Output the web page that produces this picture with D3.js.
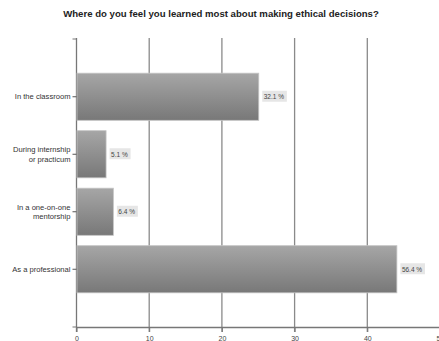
<!DOCTYPE html>
<html>
<head>
<meta charset="utf-8">
<script src="https://cdn.jsdelivr.net/npm/d3@7"></script>
<style>
  body { margin: 0; background: #fff; }
  text { font-family: "Liberation Sans", Arial, sans-serif; }
</style>
</head>
<body>
<div id="chart"></div>
<script>
var title = 'Where do you feel you learned most about making ethical decisions?';
var categories = [['In the classroom'], ['During internship', 'or practicum'], ['In a one-on-one', 'mentorship'], ['As a professional']];
var counts = [25, 4, 5, 44];
var percents = ['32.1 %', '5.1 %', '6.4 %', '56.4 %'];
var x_ticks = [0, 10, 20, 30, 40, 50];

var width = 439, height = 341;
var svg = d3.select('#chart').append('svg')
    .attr('width', width)
    .attr('height', height);

var defs = svg.append('defs');
var grad = defs.append('linearGradient')
    .attr('id', 'bar_grad')
    .attr('x1', 0).attr('y1', 0).attr('x2', 0).attr('y2', 1);
grad.append('stop').attr('offset', '0%').attr('stop-color', '#a6a6a6');
grad.append('stop').attr('offset', '100%').attr('stop-color', '#787878');

var x = d3.scaleLinear()
    .domain([0, 50])
    .range([76.5, 440]);

var y = d3.scaleBand()
    .domain(d3.range(categories.length))
    .range([68, 298])
    .paddingInner(0.18)
    .paddingOuter(0.09);

var plot_top = 38, plot_bottom = 327;

svg.append('text')
    .attr('x', 221)
    .attr('y', 17)
    .attr('text-anchor', 'middle')
    .attr('font-size', 9.6)
    .attr('font-weight', 'bold')
    .attr('fill', '#222')
    .text(title);

// vertical gridlines
svg.selectAll('line.grid')
    .data(x_ticks.slice(1))
    .enter()
    .append('line')
    .attr('class', 'grid')
    .attr('x1', d => x(d)).attr('x2', d => x(d))
    .attr('y1', plot_top).attr('y2', plot_bottom + 5)
    .attr('stroke', '#8a8a8a')
    .attr('stroke-width', 1.3);

// bottom axis
var xaxis = svg.append('g')
    .attr('transform', `translate(0,${plot_bottom})`)
    .call(d3.axisBottom(x).tickValues(x_ticks).tickSize(5).tickSizeOuter(0));
xaxis.select('.domain').attr('stroke', '#777').attr('stroke-width', 1.3);
xaxis.selectAll('.tick line').attr('stroke', '#777');
xaxis.selectAll('text').attr('font-size', 7).attr('fill', '#444').attr('dy', '0.9em');

// left axis line
svg.append('line')
    .attr('x1', x(0)).attr('x2', x(0))
    .attr('y1', plot_top).attr('y2', plot_bottom + 5)
    .attr('stroke', '#777')
    .attr('stroke-width', 1.3);
svg.append('line')
    .attr('x1', x(0) - 4).attr('x2', x(0))
    .attr('y1', plot_top + 1).attr('y2', plot_top + 1)
    .attr('stroke', '#777');
svg.append('line')
    .attr('x1', x(0) - 4).attr('x2', x(0))
    .attr('y1', plot_bottom).attr('y2', plot_bottom)
    .attr('stroke', '#777');

// bars
svg.selectAll('rect.bar')
    .data(counts)
    .enter()
    .append('rect')
    .attr('class', 'bar')
    .attr('x', x(0) + 0.5)
    .attr('y', (d, i) => y(i))
    .attr('width', d => x(d) - x(0))
    .attr('height', y.bandwidth())
    .attr('fill', 'url(#bar_grad)')
    .attr('stroke', '#c4c4c4')
    .attr('stroke-width', 0.8);

// category labels and ticks
var cat = svg.selectAll('g.cat')
    .data(categories)
    .enter()
    .append('g')
    .attr('class', 'cat')
    .attr('transform', (d, i) => `translate(0,${y(i) + y.bandwidth() / 2})`);
cat.append('line')
    .attr('x1', x(0) - 4).attr('x2', x(0))
    .attr('stroke', '#555');
cat.append('text')
    .attr('x', x(0) - 6)
    .attr('text-anchor', 'end')
    .attr('font-size', 7.6)
    .attr('fill', '#333')
    .selectAll('tspan')
    .data(d => d.map((t, j) => [t, j, d.length]))
    .enter()
    .append('tspan')
    .attr('x', x(0) - 6)
    .attr('y', d => (d[1] - (d[2] - 1) / 2) * 9.5 + 2.7)
    .text(d => d[0]);

// value labels
var val = svg.selectAll('g.val')
    .data(counts)
    .enter()
    .append('g')
    .attr('class', 'val')
    .attr('transform', (d, i) => `translate(${x(d) + 4},${y(i) + y.bandwidth() / 2})`);
val.append('rect')
    .attr('x', 0).attr('y', -6)
    .attr('width', (d, i) => percents[i].length * 3.6 + 3)
    .attr('height', 11)
    .attr('fill', '#e6e6e6');
val.append('text')
    .attr('x', 1.5)
    .attr('y', 2.5)
    .attr('font-size', 6.5)
    .attr('fill', '#444')
    .text((d, i) => percents[i]);
</script>
</body>
</html>
